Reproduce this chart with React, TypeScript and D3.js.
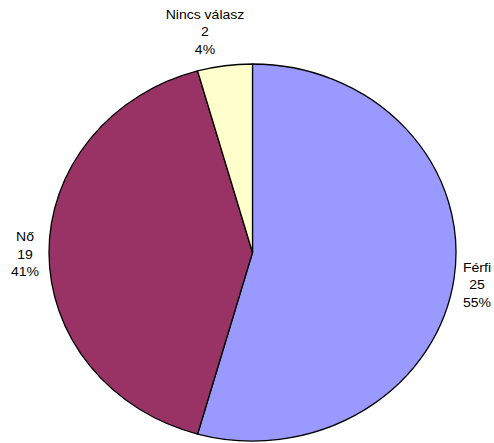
import React from "react";
import * as d3 from "d3";

const categories = ["Férfi", "Nő", "Nincs válasz"];
const values = [25, 19, 2];
const percentLabels = ["55%", "41%", "4%"];
const colors = ["#9999FF", "#993366", "#FFFFCC"];

const W = 494;
const H = 443;
const cx = 252.5;
const cy = 252.5;
const R = 188.5;
const sx = 203.5 / 188.5; // horizontal stretch of the original picture
// label block anchor (center x, first baseline y) per category
const labelLayout: Record<string, [number, number]> = {
  "Férfi": [477, 272],
  "Nő": [25, 241.5],
  "Nincs válasz": [205, 19],
};
const lineH = 17.5;

export default function App() {
  const pie = d3.pie<number>().sort(null).value((d) => d);
  const arcs = pie(values);
  const arc = d3.arc<d3.PieArcDatum<number>>().innerRadius(0).outerRadius(R);
  return (
    <svg width={W} height={H} style={{ position: "absolute", left: 0, top: 0 }}>
      <rect width={W} height={H} fill="#fff" />
      <g transform={`translate(${cx},${cy}) scale(${sx},1)`}>
        {arcs.map((a, i) => (
          <path key={i} d={arc(a) || ""} fill={colors[i]} stroke="#000" strokeWidth={1.3} strokeLinejoin="round" vectorEffect="non-scaling-stroke" />
        ))}
      </g>
      {categories.map((c, i) => {
        const [x, y] = labelLayout[c];
        const lines = [c, String(values[i]), percentLabels[i]];
        return (
          <g key={c} transform={`translate(${x},0) scale(${sx},1)`}>
            <text x={0} y={y} textAnchor="middle" fontFamily="Liberation Sans, Arial, sans-serif" fontSize={13} fill="#000">
              {lines.map((t, j) => (
                <tspan key={j} x={0} y={y + j * lineH}>{t}</tspan>
              ))}
            </text>
          </g>
        );
      })}
    </svg>
  );
}
